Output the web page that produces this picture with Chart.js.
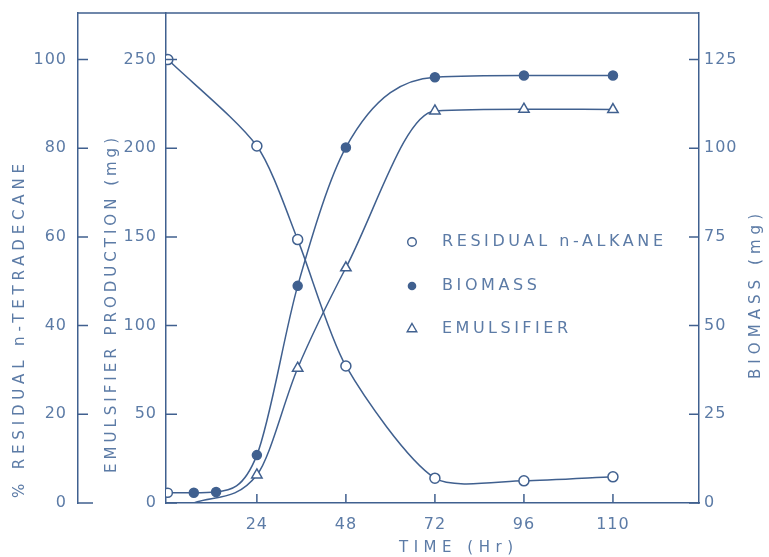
<!DOCTYPE html>
<html lang="en">
<head>
<meta charset="UTF-8" />
<title>Residual n-alkane, biomass and emulsifier</title>
<script src="https://cdn.jsdelivr.net/npm/chart.js"></script>
<style>
  html, body { margin: 0; padding: 0; background: #fff; }
  #wrap { width: 769px; height: 557px; }
</style>
</head>
<body>
<div id="wrap"><canvas id="chart" width="769" height="557"></canvas></div>
<script>
  // values, time in hours
  const alkaneTime = [0, 24, 35, 48, 72, 96, 110];
  const alkanePct = [100, 80.5, 59.4, 30.9, 5.6, 5.0, 5.9];
  const biomassTime = [0, 7, 13, 24, 35, 48, 72, 96, 110];
  const biomassMg = [2.9, 2.9, 3.1, 13.5, 61.2, 100.2, 120, 120.5, 120.5];
  const emulTime = [7, 24, 35, 48, 72, 96, 110];
  const emulMg = [0, 15.8, 76, 132.6, 221, 222, 221.8];

  const timeTicks = [24, 48, 72, 96, 110];
  const pctTicks = [0, 20, 40, 60, 80, 100];
  const emulTicks = [0, 50, 100, 150, 200, 250];
  const bioTicks = [0, 25, 50, 75, 100, 125];

  const INK = '#40608f';
  const TEXT = '#5c7ba6';
  const FONT = '"DejaVu Sans", "Liberation Sans", sans-serif';

  // the last step (96 -> 110) is drawn as wide as 24 hr on the original axis
  function pos(h) {
    return h <= 96 ? h : 96 + (h - 96) * 24 / 14;
  }
  function pts(ts, vs) {
    return ts.map((t, i) => ({ x: pos(t), y: vs[i] }));
  }

  const tickFont = { family: FONT, size: 16 };

  // spread a label so that it covers a given length, like the hand lettering
  function spreadText(ctx, txt, len) {
    ctx.letterSpacing = '0px';
    const w = ctx.measureText(txt).width;
    ctx.letterSpacing = Math.max(0, (len - w) / (txt.length - 1)) + 'px';
  }

  const decor = {
    id: 'decor',
    beforeDraw(chart) {
      const ctx = chart.ctx;
      ctx.save();
      ctx.fillStyle = '#ffffff';
      ctx.fillRect(0, 0, chart.width, chart.height);
      ctx.restore();
      ctx.letterSpacing = '1px';
    },
    afterDraw(chart) {
      const ctx = chart.ctx;
      const a = chart.chartArea;
      const sx = chart.scales.x, sp = chart.scales.pct, se = chart.scales.emul, sb = chart.scales.bio;
      ctx.save();
      ctx.strokeStyle = INK;
      ctx.lineWidth = 1.5;
      ctx.beginPath();
      // top frame line and foot of the outer axis
      ctx.moveTo(sp.right, a.top); ctx.lineTo(a.right, a.top);
      ctx.moveTo(sp.right, a.bottom); ctx.lineTo(sp.right + 15, a.bottom);
      // inward tick marks
      sp.ticks.forEach(t => { const y = sp.getPixelForValue(t.value); ctx.moveTo(sp.right, y); ctx.lineTo(sp.right + 10, y); });
      se.ticks.forEach(t => { const y = se.getPixelForValue(t.value); ctx.moveTo(a.left, y); ctx.lineTo(a.left + 11, y); });
      sb.ticks.forEach(t => { const y = sb.getPixelForValue(t.value); ctx.moveTo(a.right, y); ctx.lineTo(a.right - 10, y); });
      sx.ticks.forEach(t => { const x = sx.getPixelForValue(t.value); ctx.moveTo(x, a.bottom); ctx.lineTo(x, a.bottom - 9); });
      ctx.stroke();

      // axis titles
      ctx.fillStyle = TEXT;
      ctx.font = '15px ' + FONT;
      ctx.textAlign = 'left';
      ctx.textBaseline = 'middle';
      const vtitle = (txt, x, y0, y1) => {
        ctx.save();
        ctx.translate(x, y0);
        ctx.rotate(-Math.PI / 2);
        spreadText(ctx, txt, y0 - y1);
        ctx.fillText(txt, 0, 0);
        ctx.restore();
      };
      vtitle('% RESIDUAL n-TETRADECANE', 20, 498, 164);
      vtitle('EMULSIFIER PRODUCTION (mg)', 112, 473, 138);
      vtitle('BIOMASS (mg)', 756, 379, 214);
      spreadText(ctx, 'TIME (Hr)', 114);
      ctx.fillText('TIME (Hr)', 399, 548);

      // legend inside the plot
      ctx.font = '16px ' + FONT;
      const rows = [
        { y: 242, label: 'RESIDUAL n-ALKANE', len: 221, kind: 'open' },
        { y: 286, label: 'BIOMASS', len: 95, kind: 'fill' },
        { y: 329, label: 'EMULSIFIER', len: 126, kind: 'tri' }
      ];
      rows.forEach(r => {
        ctx.lineWidth = 1.4;
        ctx.beginPath();
        if (r.kind === 'tri') {
          const s = 5.5;
          ctx.moveTo(412, r.y - s); ctx.lineTo(412 + s * 0.87, r.y + s * 0.5); ctx.lineTo(412 - s * 0.87, r.y + s * 0.5); ctx.closePath();
          ctx.stroke();
        } else {
          ctx.arc(412, r.y, 4.3, 0, Math.PI * 2);
          if (r.kind === 'fill') { ctx.fillStyle = INK; ctx.fill(); } else { ctx.stroke(); }
        }
        ctx.fillStyle = TEXT;
        spreadText(ctx, r.label, r.len);
        ctx.fillText(r.label, 442, r.y);
      });
      ctx.restore();
      ctx.letterSpacing = '0px';
    }
  };

  const lineBase = {
    borderColor: INK,
    borderWidth: 1.5,
    cubicInterpolationMode: 'monotone',
    pointBorderColor: INK,
    pointBorderWidth: 1.5,
    xAxisID: 'x'
  };

  function yFit(width) {
    return s => { s.width = width; s.paddingTop = 0; s.paddingBottom = 0; };
  }

  new Chart(document.getElementById('chart'), {
    type: 'line',
    data: {
      datasets: [
        Object.assign({}, lineBase, {
          label: 'Residual n-alkane',
          data: pts(alkaneTime, alkanePct),
          yAxisID: 'pct',
          cubicInterpolationMode: 'default',
          tension: 0.25,
          pointStyle: 'circle',
          pointRadius: 5,
          pointBackgroundColor: '#ffffff'
        }),
        Object.assign({}, lineBase, {
          label: 'Biomass',
          data: pts(biomassTime, biomassMg),
          yAxisID: 'bio',
          pointStyle: 'circle',
          pointRadius: 4.5,
          pointBackgroundColor: biomassTime.map((t, i) => i === 0 ? '#ffffff' : INK)
        }),
        Object.assign({}, lineBase, {
          label: 'Emulsifier',
          data: pts(emulTime, emulMg),
          yAxisID: 'emul',
          pointStyle: 'triangle',
          pointRadius: emulTime.map((t, i) => i === 0 ? 0 : 6),
          pointBackgroundColor: '#ffffff'
        })
      ]
    },
    options: {
      responsive: false,
      animation: false,
      layout: { padding: { top: 13, left: 0, right: 0, bottom: 0 } },
      plugins: { legend: { display: false }, tooltip: { enabled: false } },
      scales: {
        x: {
          type: 'linear',
          min: -0.5,
          max: 143.2,
          afterBuildTicks: s => { s.ticks = timeTicks.map(t => ({ value: pos(t) })); },
          afterFit: s => { s.height = 54; s.paddingLeft = 0; s.paddingRight = 0; },
          grid: { display: false, drawTicks: false },
          border: { display: true, color: INK, width: 1.5 },
          ticks: { padding: 12, color: TEXT, font: tickFont, maxRotation: 0, callback: (v, i) => String(timeTicks[i]) }
        },
        pct: {
          position: 'left',
          weight: 2,
          min: 0,
          max: 110.5,
          afterBuildTicks: s => { s.ticks = pctTicks.map(v => ({ value: v })); },
          afterFit: yFit(78),
          grid: { display: false, drawTicks: false },
          border: { display: true, color: INK, width: 1.5 },
          ticks: { padding: 11, color: TEXT, font: tickFont }
        },
        emul: {
          position: 'left',
          weight: 1,
          min: 0,
          max: 276.2,
          afterBuildTicks: s => { s.ticks = emulTicks.map(v => ({ value: v })); },
          afterFit: yFit(88),
          grid: { display: false, drawTicks: false },
          border: { display: true, color: INK, width: 1.5 },
          ticks: { padding: 9, color: TEXT, font: tickFont }
        },
        bio: {
          position: 'right',
          min: 0,
          max: 138.1,
          afterBuildTicks: s => { s.ticks = bioTicks.map(v => ({ value: v })); },
          afterFit: yFit(70),
          grid: { display: false, drawTicks: false },
          border: { display: true, color: INK, width: 1.5 },
          ticks: { padding: 5, color: TEXT, font: tickFont }
        }
      }
    },
    plugins: [decor]
  });
</script>
</body>
</html>
